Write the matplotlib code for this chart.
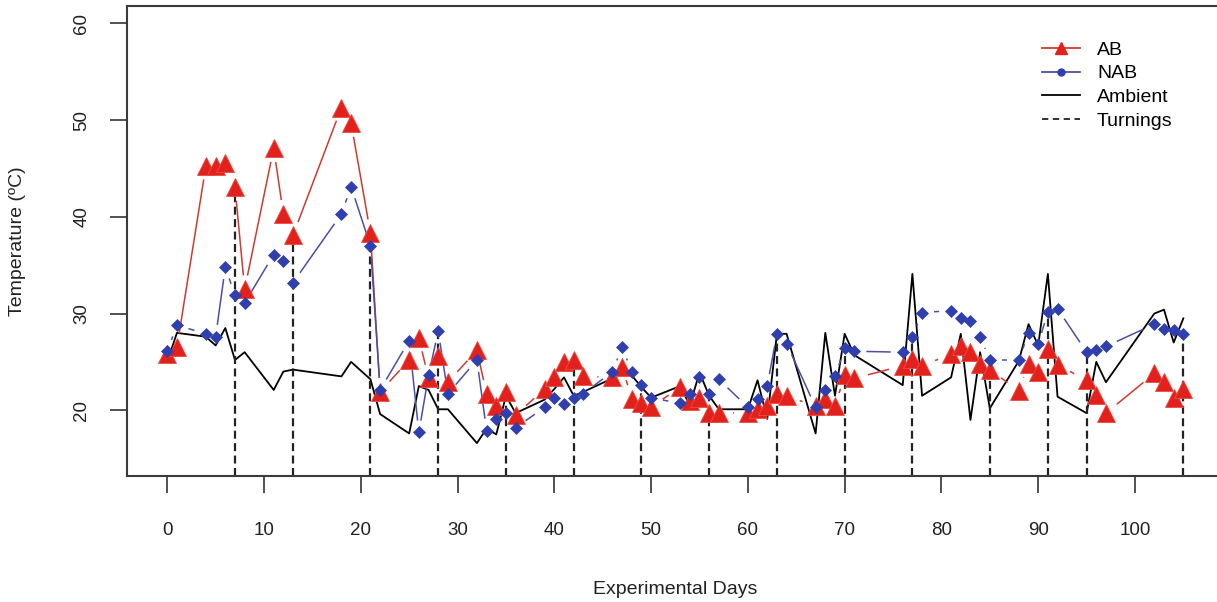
#!/usr/bin/env python3
"""Compost temperature profile: AB vs NAB piles, ambient air and turning days."""
import numpy as np
import matplotlib
matplotlib.use("Agg")
import matplotlib.pyplot as plt  # noqa: E402
from matplotlib.collections import LineCollection  # noqa: E402
from matplotlib.lines import Line2D  # noqa: E402

plt.rcParams["font.family"] = ["Liberation Sans", "DejaVu Sans"]

DAYS = [0, 1, 4, 5, 6, 7, 8, 11, 12, 13, 18, 19, 21, 22, 25, 26, 27, 28, 29,
        32, 33, 34, 35, 36, 39, 40, 41, 42, 43, 46, 47, 48, 49, 50, 53, 54,
        55, 56, 57, 60, 61, 62, 63, 64, 67, 68, 69, 70, 71, 76, 77, 78, 81,
        82, 83, 84, 85, 88, 89, 90, 91, 92, 95, 96, 97, 102, 103, 104, 105]

AB = [25.8, 26.5, 45.3, 45.3, 45.6, 43.1, 32.5, 47.1, 40.3, 38.1, 51.3, 49.7,
      38.3, 21.9, 25.2, 27.5, 23.3, 25.6, 22.9, 26.2, 21.7, 20.4, 21.9, 19.5,
      22.2, 23.4, 25.0, 25.2, 23.5, 23.4, 24.5, 21.2, 20.7, 20.3, 22.4, 21.0,
      21.3, 19.7, 19.7, 19.7, 20.1, 20.4, 21.7, 21.5, 20.4, 21.2, 20.4, 23.6,
      23.3, 24.6, 25.3, 24.6, 25.8, 26.6, 26.0, 24.8, 24.2, 22.0, 24.8, 24.0,
      26.3, 24.7, 23.1, 21.6, 19.7, 23.8, 22.9, 21.3, 22.2]

NAB = [26.1, 28.8, 27.9, 27.6, 34.8, 31.9, 31.1, 36.1, 35.4, 33.2, 40.3, 43.1,
       37.0, 22.1, 27.2, 17.7, 23.6, 28.2, 21.7, 25.2, 17.9, 19.1, 19.7, 18.2,
       20.3, 21.3, 20.6, 21.3, 21.7, 24.0, 26.5, 24.0, 22.6, 21.3, 20.7, 21.7,
       23.4, 21.7, 23.2, 20.3, 21.2, 22.5, 27.9, 26.9, 20.3, 22.1, 23.5, 26.4,
       26.1, 26.0, 27.6, 30.1, 30.3, 29.5, 29.2, 27.6, 25.2, 25.2, 28.0, 26.8,
       30.2, 30.5, 26.0, 26.2, 26.6, 28.9, 28.4, 28.3, 27.9]

AMBIENT = [25.0, 28.0, 27.6, 26.7, 28.5, 25.2, 26.0, 22.1, 24.0, 24.2, 23.5,
           25.0, 23.2, 19.6, 17.6, 22.5, 22.1, 20.1, 20.1, 16.6, 18.1, 17.5,
           21.5, 19.7, 21.1, 22.2, 23.4, 21.5, 21.9, 23.3, 24.0, 23.6, 22.4,
           21.3, 22.5, 20.5, 23.9, 21.5, 20.1, 20.1, 23.1, 19.1, 27.9, 27.9,
           17.6, 28.0, 21.5, 27.9, 25.7, 22.6, 34.1, 21.5, 23.4, 27.9, 19.0,
           26.0, 20.2, 25.1, 28.9, 26.7, 34.1, 21.4, 19.7, 25.0, 22.9, 30.0,
           30.4, 27.0, 29.5]

TURN_DAYS = [7, 13, 21, 28, 35, 42, 49, 56, 63, 70, 77, 85, 91, 95, 105]

XTICKS = list(range(0, 101, 10))
YTICKS = [20, 30, 40, 50, 60]

RED, RED_LINE = "#e3211c", "#d03a2e"
BLUE, BLUE_LINE = "#2f3fae", "#4a4fa8"


def gapped(ax, xs, ys, gap_px):
    """R type='b' style: segments between points, cut back near each point."""
    pts = ax.transData.transform(np.column_stack([xs, ys]))
    inv = ax.transData.inverted()
    segs = []
    for p0, p1 in zip(pts[:-1], pts[1:]):
        d = p1 - p0
        n = np.hypot(*d)
        if n <= 2 * gap_px:
            continue
        u = d / n
        segs.append(inv.transform(np.array([p0 + u * gap_px, p1 - u * gap_px])))
    return segs


def main():
    W, H = 1217, 602
    fig = plt.figure(figsize=(W / 100, H / 100), dpi=100)
    ax = fig.add_axes([126.6 / W, 1 - 476 / H, 1097.4 / W, 470 / H])
    ax.set_xlim(-4.2, 109.2)
    ax.set_ylim(13.2, 61.8)

    ax.plot(DAYS, AMBIENT, color="black", lw=1.3, zorder=2)

    lookup_ab = dict(zip(DAYS, AB))
    lookup_nab = dict(zip(DAYS, NAB))
    tops = [max(lookup_ab[d], lookup_nab[d]) for d in TURN_DAYS]
    ax.vlines(TURN_DAYS, 13.2, tops, colors="#222222", lw=1.6,
              linestyles=(0, (3.6, 2.0)), zorder=2)

    ax.add_collection(LineCollection(gapped(ax, DAYS, AB, 14), colors=RED_LINE,
                                     linewidths=1.1, zorder=3))
    ax.add_collection(LineCollection(gapped(ax, DAYS, NAB, 12), colors=BLUE_LINE,
                                     linewidths=1.1, zorder=3))
    ax.plot(DAYS, AB, ls="none", marker="^", ms=12.5, color=RED,
            mec="#ec4a40", mew=0.6, zorder=4)
    ax.plot(DAYS, NAB, ls="none", marker="D", ms=6.6, color=BLUE,
            mec=BLUE, mew=0.5, zorder=5)

    ax.set_xticks(XTICKS)
    ax.set_yticks(YTICKS)
    ax.tick_params(axis="both", direction="out", length=12, width=1.2,
                   color="#333333", labelsize=13.5, labelcolor="#222222")
    ax.tick_params(axis="x", pad=21)
    ax.tick_params(axis="y", pad=14)
    for lab in ax.get_yticklabels():
        lab.set_rotation(90)
        lab.set_va("center")
    for sp in ax.spines.values():
        sp.set_linewidth(1.5)
        sp.set_color("#3a3a3a")

    fig.text(675 / W, 1 - 590 / H, "Experimental Days", ha="center",
             va="center", fontsize=14, color="#222222")
    fig.text(18 / W, 1 - 241 / H, "Temperature (ºC)", ha="center",
             va="center", rotation=90, fontsize=14, color="#222222")

    handles = [
        Line2D([], [], color=RED_LINE, lw=1.3, marker="^", ms=8, mfc=RED, mec=RED),
        Line2D([], [], color=BLUE_LINE, lw=1.3, marker="o", ms=5, mfc=BLUE, mec=BLUE),
        Line2D([], [], color="black", lw=1.3),
        Line2D([], [], color="#222222", lw=1.3, ls=(0, (3.5, 2.5))),
    ]
    ax.legend(handles, ["AB", "NAB", "Ambient", "Turnings"], loc="upper left",
              bbox_to_anchor=(1041.7 / W, 1 - 41 / H),
              bbox_transform=fig.transFigure, frameon=False, borderpad=0,
              borderaxespad=0, handlelength=1.95, handletextpad=0.9,
              labelspacing=0.32, fontsize=14)

    fig.savefig("out.png", dpi=100)
    plt.close(fig)


if __name__ == "__main__":
    main()
